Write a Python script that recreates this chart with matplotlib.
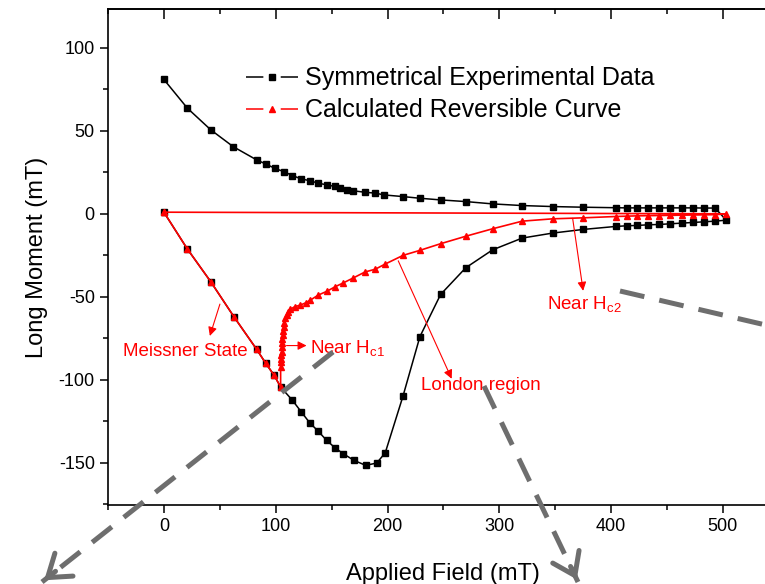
import numpy as np
import matplotlib
matplotlib.use("Agg")
import matplotlib.pyplot as plt
from matplotlib.lines import Line2D
from matplotlib.patches import FancyArrowPatch
from matplotlib.ticker import MultipleLocator

plt.rcParams['font.family'] = ['Liberation Sans', 'DejaVu Sans']
plt.rcParams['mathtext.default'] = 'regular'
plt.rcParams['axes.unicode_minus'] = False
plt.rcParams['lines.scale_dashes'] = False

# --- symmetrical experimental data (Meissner line, lower branch, upper branch back to 0) ---
exp_field = [0, 20.8, 42, 62.6, 83, 91, 98.7, 104.4,
             115, 123, 130.5, 138, 145.5, 153, 160.5, 170, 180.5, 190.4, 198,
             213.8, 229, 247.5, 270, 294, 320.5, 347.6, 375, 404, 413.8, 423,
             433, 443, 452.6, 463, 473, 483, 493, 503,
             493, 483, 473, 463, 452.6, 443, 433, 423, 413.8, 404, 375, 347.6,
             320.5, 294, 270, 247.5, 229, 214, 197, 189, 180, 169.5, 163.5,
             157.5, 153, 145.5, 138, 131, 122.6, 115, 107, 99, 91, 83, 62, 42,
             21, 0]
exp_moment = [1, -21, -41, -62, -81.7, -90, -97.4, -104.4,
              -112.4, -119.5, -126, -131, -136.5, -141, -144.6, -148.6, -151.6,
              -150.2, -144,
              -110, -74, -48.6, -32.5, -21.7, -14.6, -11.6, -9.4, -7.6, -7.2, -7,
              -6.6, -6.4, -6, -5.6, -5.2, -4.8, -4.4, -3.8,
              3.5, 3.5, 3.6, 3.6, 3.6, 3.6, 3.6, 3.6, 3.6, 3.7, 4, 4.4,
              5, 6, 7.4, 8.4, 9.4, 10.4, 11.4, 12.5, 13, 13.9, 14.5,
              15.5, 16.5, 17.5, 18.5, 19.9, 21.1, 23.1, 25.5, 27.5, 30.1, 32.5,
              40.5, 50.6, 63.7, 81]

# --- calculated reversible curve ---
calc_field = [0, 20.8, 42, 62.6, 83, 91, 98.7, 104.4,
              104.4, 104.6, 104.8, 105, 105.3, 105.5, 105.8, 106, 106.2, 106.5,
              107, 107.5, 108.3, 109.7, 111, 113,
              117, 122, 127, 131, 138, 146, 153, 160.5, 169.5, 180, 189, 197.5,
              214, 229, 247.5, 270, 294, 320.5, 347.6, 375, 404, 413.8, 423, 433,
              443, 452.6, 463, 473, 483, 493, 503, 0]
calc_moment = [1, -21, -41, -62, -81.7, -90, -97.4, -104.4,
               -92.4, -89.5, -87.3, -85, -83, -80.5, -78, -75.5, -73, -70.5,
               -68, -65.5, -63, -61, -59, -57.5,
               -56, -55, -53.6, -52, -49, -46.6, -44, -41.6, -38.6, -35, -33.4,
               -30.4, -25, -22, -18, -13.5, -9, -4.4, -3, -2.4, -1.6, -1.4, -1.2,
               -1.1, -1.0, -0.9, -0.8, -0.7, -0.6, -0.5, 0, 1]

W, H = 765, 584
fig = plt.figure(figsize=(W / 100, H / 100), dpi=100)
ax = fig.add_axes([108 / W, 1 - 505 / H, 670.8 / W, 495.7 / H])

ax.plot(exp_field, exp_moment, color='black', lw=1.1, marker='s', ms=4.2, zorder=3)
ax.plot(calc_field, calc_moment, color='red', lw=1.2, marker='^', ms=5, zorder=4)

ax.set_xlim(-50, 550)
ax.set_ylim(-175.5, 123.3)
ax.xaxis.set_major_locator(MultipleLocator(100))
ax.xaxis.set_minor_locator(MultipleLocator(50))
ax.yaxis.set_major_locator(MultipleLocator(50))
ax.yaxis.set_minor_locator(MultipleLocator(25))
ax.tick_params(which='major', direction='out', length=6, width=1.1, labelsize=13)
ax.tick_params(which='minor', direction='out', length=3.5, width=1.1)
for s in ax.spines.values():
    s.set_linewidth(1.2)
ax.spines['right'].set_visible(False)

top = ax.secondary_xaxis('top')
top.xaxis.set_major_locator(MultipleLocator(100))
top.xaxis.set_minor_locator(MultipleLocator(50))
top.tick_params(which='major', direction='in', length=7, width=1.1, labeltop=False)
top.tick_params(which='minor', direction='in', length=3.5, width=1.1)
top.spines['top'].set_linewidth(1.2)

ax.set_xlabel('Applied Field (mT)', fontsize=17, labelpad=20)
ax.set_ylabel('Long Moment (mT)', fontsize=17, labelpad=8)

# legend with Origin-style handles (dash - marker - dash)
h_exp = Line2D([], [], color='black', lw=1.1, marker='s', ms=4.2, dashes=(12.5, 12.5))
h_calc = Line2D([], [], color='red', lw=1.1, marker='^', ms=5, dashes=(12.5, 12.5))
ax.legend([h_exp, h_calc], ['Symmetrical Experimental Data', 'Calculated Reversible Curve'],
          loc='upper left', bbox_to_anchor=(0.187, 0.91), frameon=False,
          fontsize=18, handlelength=2.08, handletextpad=0.3, labelspacing=0.32,
          borderpad=0, numpoints=1)

# annotations
arr = dict(arrowstyle='-|>', color='red', lw=0.8, mutation_scale=13, shrinkA=0, shrinkB=0)
ax.annotate('', xy=(41.1, -73.6), xytext=(50.1, -54.4), arrowprops=arr)
ax.text(18.8, -83.2, 'Meissner State', color='red', fontsize=13.5, ha='center', va='center')
ax.annotate('', xy=(127.6, -79.4), xytext=(109.7, -79.4), arrowprops=arr)
ax.text(130.6, -84, 'Near H$_{c1}$', color='red', fontsize=13.5, ha='left', va='baseline')
ax.annotate('', xy=(257.4, -99.4), xytext=(209.6, -28.3), arrowprops=arr)
ax.text(283.1, -103.4, 'London region', color='red', fontsize=13.5, ha='center', va='center')
ax.annotate('', xy=(375, -46.4), xytext=(365.6, -2.7), arrowprops=arr)
ax.text(342.3, -57.4, 'Near H$_{c2}$', color='red', fontsize=13.5, ha='left', va='baseline')

# grey dashed zoom arrows across the figure
grey = '#6e6e6e'
for (x0, y0), (x1, y1), head in [((333, 352), (42, 582), True),
                                  ((484, 386), (578, 582), True),
                                  ((620, 291), (800, 333), False)]:
    ln = Line2D([x0 / W, x1 / W], [1 - y0 / H, 1 - y1 / H], transform=fig.transFigure,
                color=grey, lw=3.6, linestyle=(0, (18, 11)), solid_capstyle='butt',
                dash_capstyle='butt', clip_on=False)
    fig.add_artist(ln)
    if head:
        dx, dy = x1 - x0, y1 - y0
        L = np.hypot(dx, dy)
        xs, ys = x1 - dx / L * 20, y1 - dy / L * 20
        fa = FancyArrowPatch((xs / W, 1 - ys / H), (x1 / W, 1 - y1 / H),
                             transform=fig.transFigure, arrowstyle='->,head_length=0.5,head_width=0.35',
                             mutation_scale=30, color=grey, lw=3.6)
        fig.add_artist(fa)

fig.savefig('out.png', dpi=100)
